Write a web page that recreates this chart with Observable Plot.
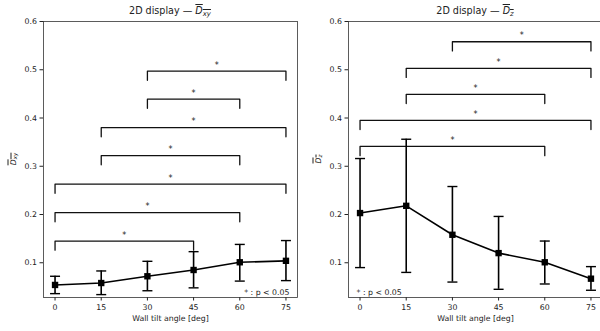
<!DOCTYPE html>
<html>
<head>
<meta charset="utf-8">
<script src="https://cdn.jsdelivr.net/npm/d3@7"></script>
<script src="https://cdn.jsdelivr.net/npm/@observablehq/plot@0.6"></script>
<style>
  html, body { margin: 0; padding: 0; background: #fff; overflow: hidden; }
  #wrap { position: relative; width: 600px; height: 331px; overflow: hidden; font-family: "DejaVu Sans", sans-serif; color: #222; }
  #wrap svg { position: absolute; top: 0; max-width: none; background: transparent; }
  .title { position: absolute; top: 6px; font-size: 9.6px; white-space: nowrap; transform: translateX(-50%); line-height: 1; }
  .ylab { position: absolute; font-size: 7.8px; white-space: nowrap; transform: translate(-50%, -50%) rotate(-90deg); line-height: 1; }
  .ov { text-decoration: overline; }
  .ov i { font-family: "DejaVu Sans", sans-serif; font-style: oblique; }
  .ov sub { font-size: 0.72em; font-style: oblique; vertical-align: -0.25em; }
</style>
</head>
<body>
<div id="wrap"></div>
<script>
// ---- data ----
const angles = [0, 15, 30, 45, 60, 75];
const tickLabelsX = [0, 15, 30, 45, 60, 75];
const tickLabelsY = [0.1, 0.2, 0.3, 0.4, 0.5, 0.6];

const dxyMean = [0.054, 0.058, 0.072, 0.085, 0.101, 0.104];
const dxyLow  = [0.036, 0.034, 0.042, 0.048, 0.062, 0.063];
const dxyHigh = [0.072, 0.083, 0.103, 0.123, 0.138, 0.146];

const dzMean = [0.203, 0.218, 0.158, 0.120, 0.101, 0.067];
const dzLow  = [0.090, 0.080, 0.060, 0.045, 0.056, 0.043];
const dzHigh = [0.316, 0.356, 0.258, 0.196, 0.145, 0.092];

// significance brackets: [from angle, to angle, bracket level]
const dxyBracketFrom  = [0, 0, 0, 15, 15, 30, 30];
const dxyBracketTo    = [45, 60, 75, 60, 75, 60, 75];
const dxyBracketLevel = [0.145, 0.204, 0.263, 0.322, 0.380, 0.439, 0.497];

const dzBracketFrom  = [0, 0, 15, 15, 30];
const dzBracketTo    = [60, 75, 60, 75, 75];
const dzBracketLevel = [0.341, 0.395, 0.449, 0.503, 0.558];

const sigNote = "* : p < 0.05";
const xLabel = "Wall tilt angle [deg]";

// ---- helpers ----
const BRACKET_DROP = 0.019;
const capSymbol = { draw(ctx) { ctx.moveTo(-5, 0); ctx.lineTo(5, 0); } };

function rows(mean, low, high) {
  return angles.map((a, i) => ({ x: a, y: mean[i], lo: low[i], hi: high[i] }));
}
function bracketRows(from, to, level) {
  const path = [];
  const stars = [];
  from.forEach((f, i) => {
    const t = to[i], l = level[i];
    path.push({ k: i, x: f, y: l - BRACKET_DROP });
    path.push({ k: i, x: f, y: l });
    path.push({ k: i, x: t, y: l });
    path.push({ k: i, x: t, y: l - BRACKET_DROP });
    stars.push({ x: (f + t) / 2, y: l });
  });
  return { path, stars };
}

function panel(data, br, opts) {
  return Plot.plot({
    width: opts.width,
    height: 331,
    marginTop: 21,
    marginBottom: 34,
    marginLeft: opts.marginLeft,
    marginRight: opts.marginRight,
    style: { fontFamily: "DejaVu Sans, sans-serif", fontSize: "7.8px", color: "#222", background: "transparent", overflow: "hidden" },
    x: { domain: [-3.75, 78.75], ticks: tickLabelsX, tickSize: 3.5, tickPadding: 3, tickFormat: d => String(d), label: null },
    y: { domain: [0.028, 0.6], ticks: tickLabelsY, tickSize: 3.5, tickPadding: 3, tickFormat: ".1f", label: null },
    marks: [
      Plot.frame({ stroke: "#333", strokeWidth: 0.8 }),
      Plot.line(br.path, { x: "x", y: "y", z: "k", stroke: "#111", strokeWidth: 1.3 }),
      Plot.text(br.stars, { x: "x", y: "y", text: () => "*", lineAnchor: "bottom", dy: -3.5, fontSize: 8, fill: "#222" }),
      Plot.ruleX(data, { x: "x", y1: "lo", y2: "hi", stroke: "#000", strokeWidth: 1.6 }),
      Plot.dot(data, { x: "x", y: "lo", symbol: capSymbol, stroke: "#000", strokeWidth: 1.4, r: 3 }),
      Plot.dot(data, { x: "x", y: "hi", symbol: capSymbol, stroke: "#000", strokeWidth: 1.4, r: 3 }),
      Plot.line(data, { x: "x", y: "y", stroke: "#000", strokeWidth: 1.6 }),
      Plot.dot(data, { x: "x", y: "y", symbol: "square", fill: "#000", r: 3.6 }),
      Plot.text([sigNote], { frameAnchor: opts.noteAnchor, text: d => d, textAnchor: opts.noteTextAnchor, lineAnchor: "bottom", dx: opts.noteDx, dy: -3, fill: "#222" }),
      Plot.text([xLabel], { frameAnchor: "bottom", text: d => d, dy: 23, fill: "#222" })
    ]
  });
}

const wrap = document.getElementById("wrap");

const left = panel(rows(dxyMean, dxyLow, dxyHigh), bracketRows(dxyBracketFrom, dxyBracketTo, dxyBracketLevel),
  { width: 300, marginLeft: 43, marginRight: 3, noteAnchor: "bottom-right", noteTextAnchor: "end", noteDx: -8 });
left.style.left = "0px";
wrap.appendChild(left);

const right = panel(rows(dzMean, dzLow, dzHigh), bracketRows(dzBracketFrom, dzBracketTo, dzBracketLevel),
  { width: 302, marginLeft: 48, marginRight: 0, noteAnchor: "bottom-left", noteTextAnchor: "start", noteDx: 8 });
right.style.left = "300px";
wrap.appendChild(right);

function addHtml(cls, html, x, y) {
  const d = document.createElement("div");
  d.className = cls;
  d.innerHTML = html;
  d.style.left = x + "px";
  if (y != null) d.style.top = y + "px";
  wrap.appendChild(d);
}
addHtml("title", '2D display — <span class="ov"><i>D</i><sub>xy</sub></span>', 170, null);
addHtml("title", '2D display — <span class="ov"><i>D</i><sub>z</sub></span>', 475, null);
addHtml("ylab", '<span class="ov"><i>D</i><sub>xy</sub></span>', 14, 159);
addHtml("ylab", '<span class="ov"><i>D</i><sub>z</sub></span>', 319, 159);
</script>
</body>
</html>
